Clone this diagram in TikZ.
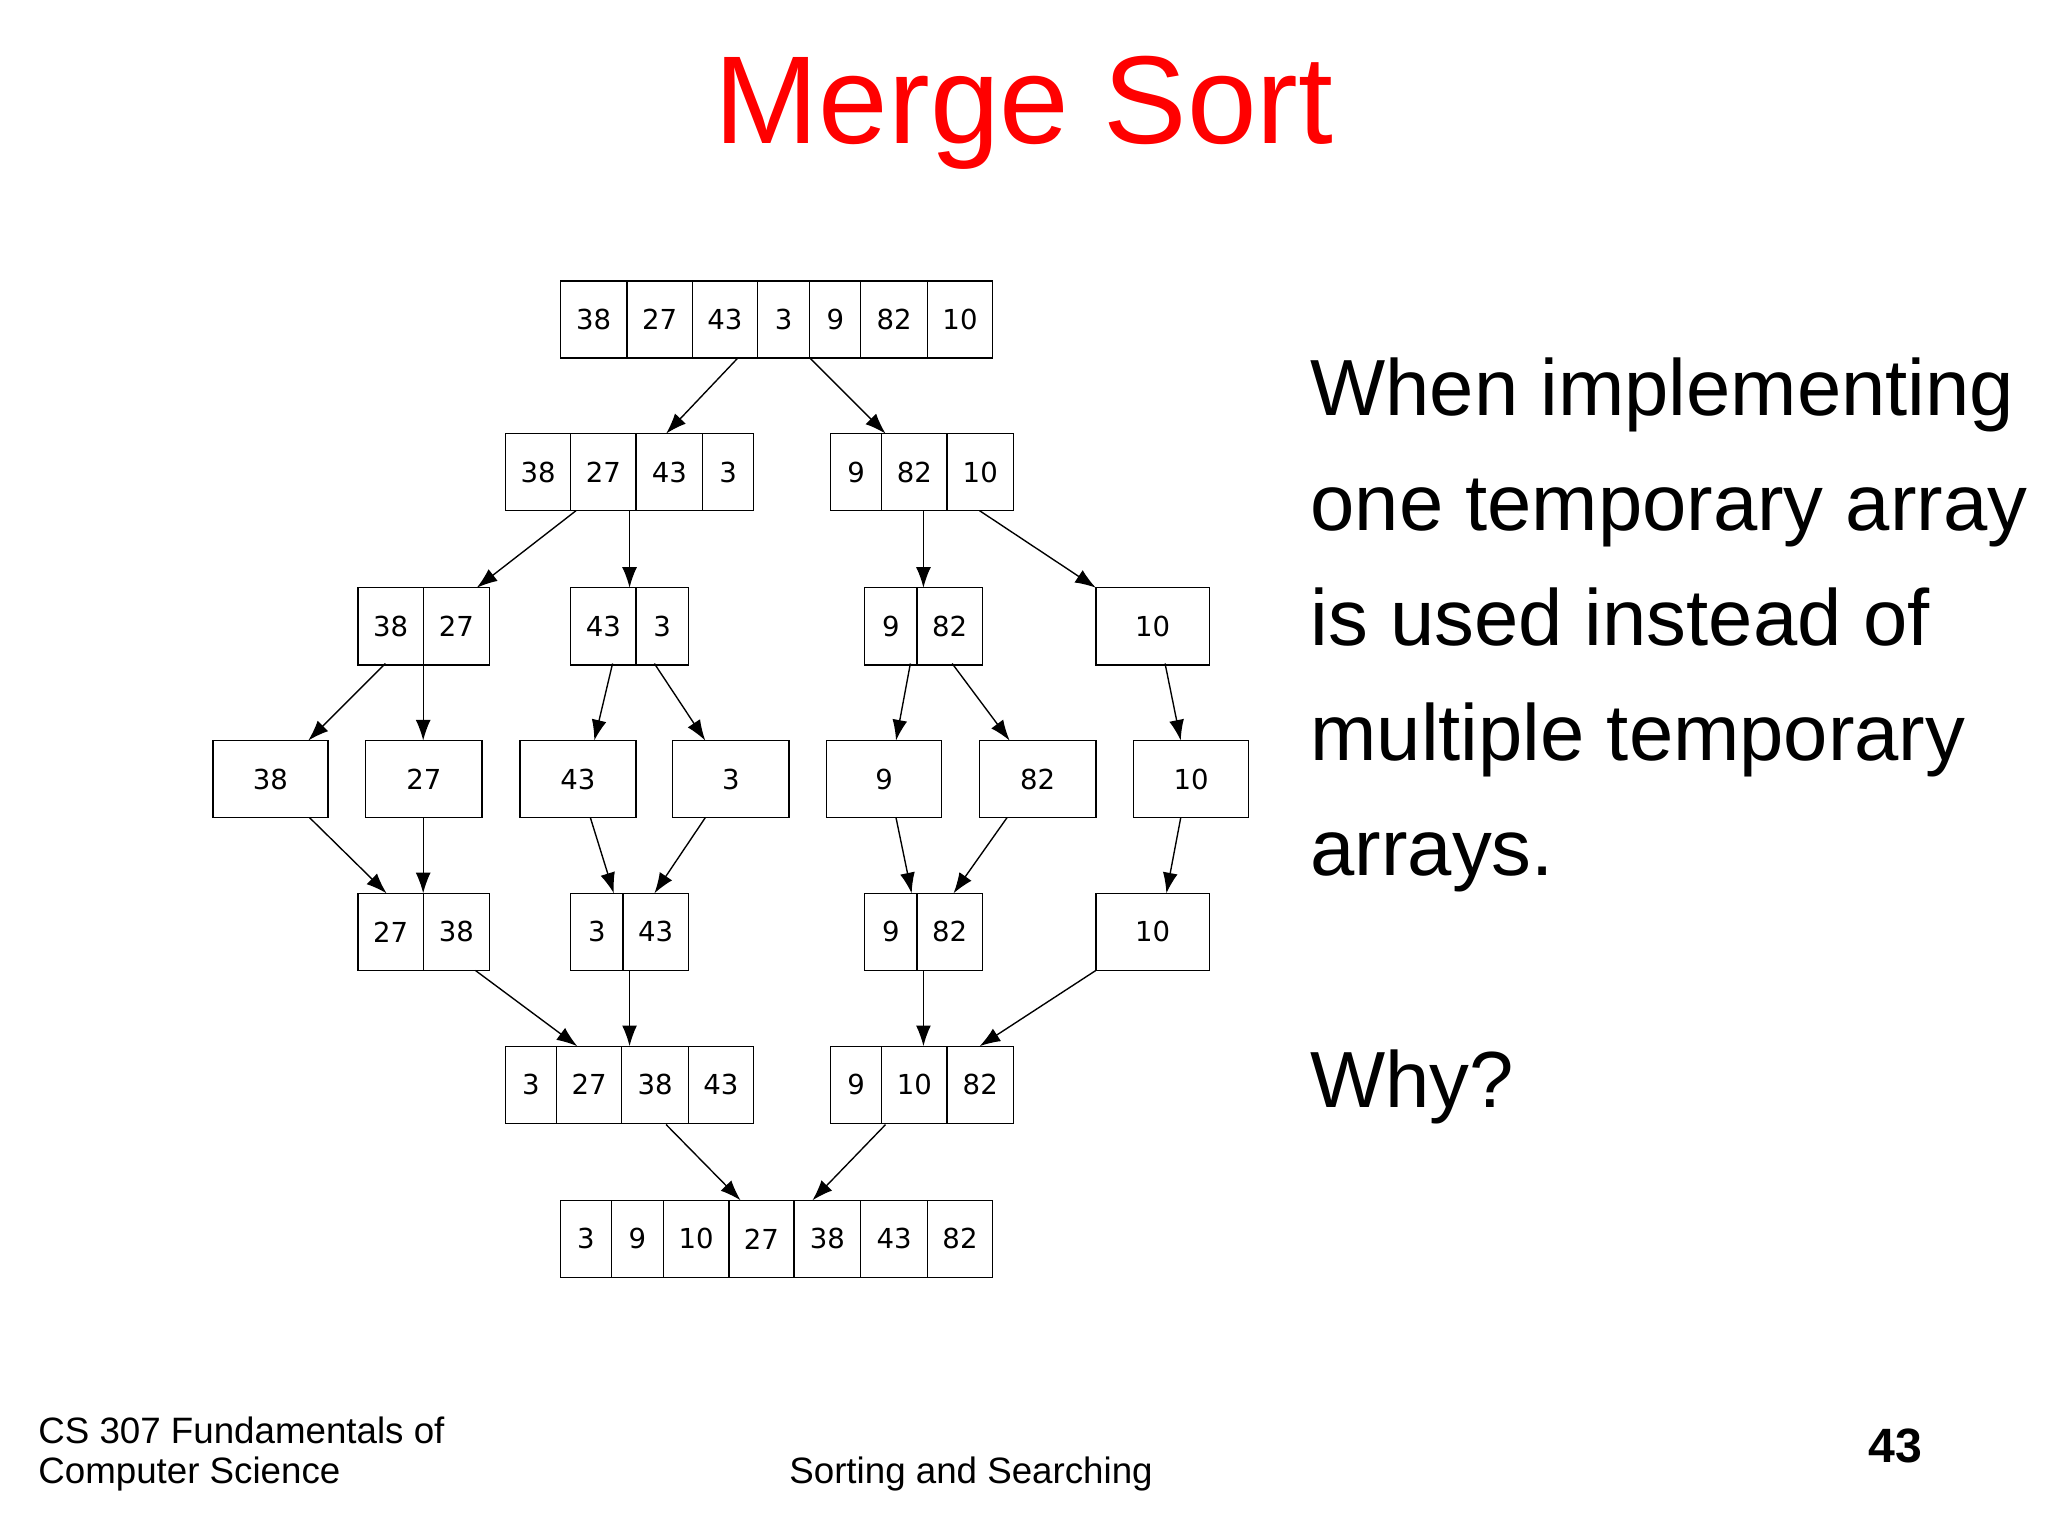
\documentclass[tikz,border=0pt]{standalone}
\usepackage{fontspec}
\usetikzlibrary{arrows.meta}
\setmainfont{Liberation Sans}
\newfontfamily\cellfont{DejaVu Sans}
\begin{document}
\begin{tikzpicture}[x=0.02cm,y=-0.02cm,
  cellbox/.style={draw,line width=0.6pt,inner sep=0pt,font=\cellfont\fontsize{12}{14}\selectfont},
  arr/.style={-{Latex[length=9pt,width=6.5pt]},line width=0.6pt},
  txt/.style={anchor=base west,inner sep=0pt}]
\useasboundingbox (0,0) rectangle (1568,1176);
\newcommand\cell[5]{\node[cellbox,minimum width={(#3-#2)*0.02cm},minimum height=1.18cm] (#1) at ({(#2+#3)/2},{#4+29.5}) {#5};}
% row 1
\cell{a1}{429}{480}{215}{38}\cell{a2}{480}{530}{215}{27}\cell{a3}{530}{580}{215}{43}\cell{a4}{580}{620}{215}{3}\cell{a5}{620}{659}{215}{9}\cell{a6}{659}{710}{215}{82}\cell{a7}{710}{760}{215}{10}
% row 2
\cell{b1}{387}{437}{332}{38}\cell{b2}{437}{487}{332}{27}\cell{b3}{487}{538}{332}{43}\cell{b4}{538}{577}{332}{3}
\cell{b5}{636}{675}{332}{9}\cell{b6}{675}{725}{332}{82}\cell{b7}{725}{776}{332}{10}
% row 3
\cell{c1}{274}{324}{450}{38}\cell{c2}{324}{375}{450}{27}\cell{c3}{437}{487}{450}{43}\cell{c4}{487}{527}{450}{3}
\cell{c5}{662}{702}{450}{9}\cell{c6}{702}{752}{450}{82}\cell{c7}{839}{926}{450}{10}
% row 4
\cell{d1}{163}{251}{567}{38}\cell{d2}{280}{369}{567}{27}\cell{d3}{398}{487}{567}{43}\cell{d4}{515}{604}{567}{3}
\cell{d5}{633}{721}{567}{9}\cell{d6}{750}{839}{567}{82}\cell{d7}{868}{956}{567}{10}
% row 5
\cell{e1}{274}{324}{684}{27}\cell{e2}{324}{375}{684}{38}\cell{e3}{437}{477}{684}{3}\cell{e4}{477}{527}{684}{43}
\cell{e5}{662}{702}{684}{9}\cell{e6}{702}{752}{684}{82}\cell{e7}{839}{926}{684}{10}
% row 6
\cell{f1}{387}{426}{801}{3}\cell{f2}{426}{476}{801}{27}\cell{f3}{476}{527}{801}{38}\cell{f4}{527}{577}{801}{43}
\cell{f5}{636}{675}{801}{9}\cell{f6}{675}{725}{801}{10}\cell{f7}{725}{776}{801}{82}
% row 7
\cell{g1}{429}{468}{919}{3}\cell{g2}{468}{508}{919}{9}\cell{g3}{508}{558}{919}{10}\cell{g4}{558}{608}{919}{27}\cell{g5}{608}{659}{919}{38}\cell{g6}{659}{710}{919}{43}\cell{g7}{710}{760}{919}{82}
% arrows
\foreach \xa/\ya/\xb/\yb in {565/274/510/332, 620/274/678/332,
 441/391/365/450, 482/391/482/450, 707/391/707/450, 750/391/839/450,
 295/508/236/567, 324/508/324/567, 469/508/455/567, 501/508/540/567,
 697/508/686/567, 729/508/773/567, 892/508/904/567,
 237/626/296/684, 324/626/324/684, 452/626/470/684, 540/626/501/684,
 686/626/698/684, 771/626/730/684, 904/626/893/684,
 364/743/442/801, 482/743/482/801, 707/743/707/801, 839/743/750/801,
 510/861/567/919, 678/861/622/919}
 \draw[arr] (\xa,\ya) -- (\xb,\yb);
% texts
\node[anchor=base,inner sep=0pt,text=red,font=\fontsize{54.5}{60}\selectfont] (title) at (784,110) {Merge Sort};
\foreach \t [count=\i] in {When implementing,one temporary array,is used instead of,multiple temporary,arrays.}
  \node[txt,font=\fontsize{34.7}{40}\selectfont] (r\i) at (1003,{318+88*(\i-1)}) {\t};
\node[txt,font=\fontsize{34.7}{40}\selectfont] (why) at (1003,848) {Why?};
\node[txt,font=\fontsize{16}{19}\selectfont] (f1t) at (29,1105) {CS 307 Fundamentals of};
\node[txt,font=\fontsize{16}{19}\selectfont] (f2t) at (29,1136) {Computer Science};
\node[txt,font=\fontsize{16}{19}\selectfont] (f3t) at (604,1136) {Sorting and Searching};
\node[txt,font=\bfseries\fontsize{21}{25}\selectfont] (pg) at (1430,1120) {43};
\end{tikzpicture}
\end{document}
